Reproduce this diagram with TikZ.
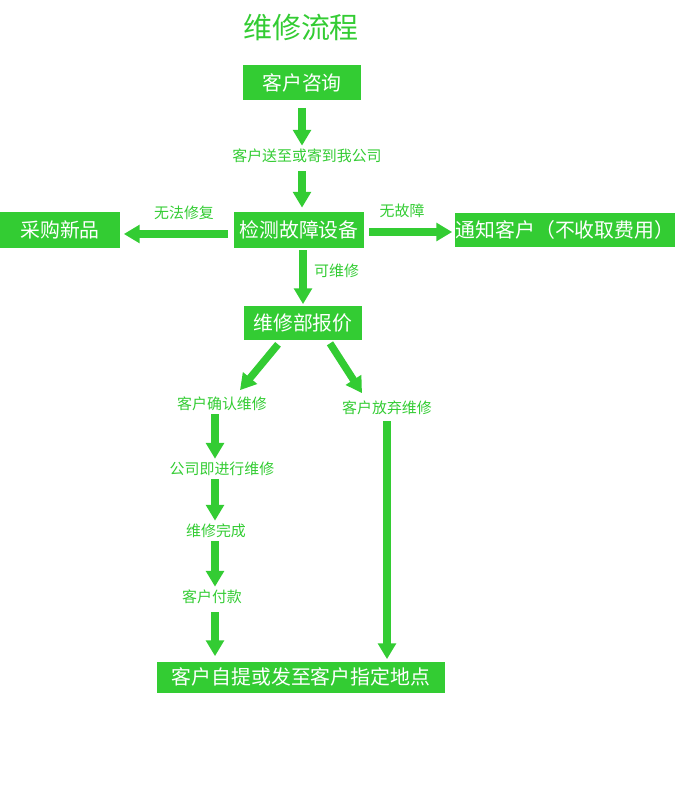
\documentclass[tikz,border=0pt]{standalone}
\usepackage{fontspec}
\setmainfont{Noto Sans CJK SC}
\usetikzlibrary{arrows.meta}
\definecolor{vert}{RGB}{51,204,51}
\tikzset{
	box/.style={fill=vert,text=white,font=\fontsize{11.3pt}{13pt}\selectfont,minimum height=0.7cm,inner xsep=0.1cm},
	lbl/.style={text=vert,font=\fontsize{8.5pt}{10pt}\selectfont,inner sep=0.06cm},
	fl/.style={draw=vert,line width=4.2pt,-{Triangle[width=10pt,length=9pt]}}
}
\begin{document}
\begin{tikzpicture}[x=0.02cm,y=-0.02cm]
	\useasboundingbox (0,0) rectangle (680,800) ;
	% boxes
	\node[text=vert,font=\fontsize{16.5pt}{19pt}\selectfont] (titre) at (301,27) {维修流程} ;
	\node[box,minimum width=2.38cm] (consult) at (302,83) {客户咨询} ;
	\node[lbl] (send) at (307,156) {客户送至或寄到我公司} ;
	\node[box,minimum width=2.6cm,minimum height=0.72cm] (check) at (299,230) {检测故障设备} ;
	\node[box,minimum width=2.42cm,minimum height=0.72cm] (buy) at (60,230) {采购新品} ;
	\node[box,minimum width=4.42cm,inner xsep=0pt] (notify) at (565,230) {通知客户（不收取费用）} ;
	\node[box,minimum width=2.38cm] (quote) at (303,323) {维修部报价} ;
	\node[lbl] (confirm) at (222,404) {客户确认维修} ;
	\node[lbl] (abandon) at (387,408) {客户放弃维修} ;
	\node[lbl] (repair) at (222,469) {公司即进行维修} ;
	\node[lbl] (done) at (216,531) {维修完成} ;
	\node[lbl] (pay) at (212,597) {客户付款} ;
	\node[box,minimum width=5.76cm,minimum height=0.62cm] (final) at (301,677) {客户自提或发至客户指定地点} ;
	\coordinate (col) at (215,0) ;
	% arrows
	\draw[fl,shorten <=0.14cm] (consult.south) -- (consult.south |- send.north) ;
	\draw[fl,shorten <=0.1cm,shorten >=0.08cm] (consult.south |- send.south) -- (consult.south |- check.north) ;
	\draw[fl,shorten <=0.12cm,shorten >=0.06cm] ([yshift=-0.08cm]check.west) -- ([yshift=-0.08cm]buy.east)
		node[lbl,pos=0.44,above=0.15cm] (nofix) {无法修复} ;
	\draw[fl,shorten <=0.1cm,shorten >=0.04cm] ([yshift=-0.04cm]check.east) -- ([yshift=-0.04cm]notify.west)
		node[lbl,pos=0.42,above=0.15cm] (nofault) {无故障} ;
	\draw[fl,shorten <=0.04cm,shorten >=0.02cm] (quote.north |- check.south) -- (quote.north)
		node[lbl,pos=0.4,right=0.09cm] (fixable) {可维修} ;
	\draw[fl] ([xshift=-0.5cm,yshift=-0.07cm]quote.south) -- ([xshift=0.36cm,yshift=0.07cm]confirm.north) ;
	\draw[fl] ([xshift=0.54cm,yshift=-0.05cm]quote.south) -- ([xshift=-0.5cm,yshift=0.09cm]abandon.north) ;
	\draw[fl] (col |- confirm.south) -- (col |- repair.north) ;
	\draw[fl] (col |- repair.south) -- (col |- done.north) ;
	\draw[fl] (col |- done.south) -- (col |- pay.north) ;
	\draw[fl,shorten <=0.1cm,shorten >=0.1cm] (col |- pay.south) -- (col |- final.north) ;
	\draw[fl,shorten <=0.06cm,shorten >=0.04cm] (abandon.south) -- (abandon.south |- final.north) ;
\end{tikzpicture}
\end{document}
